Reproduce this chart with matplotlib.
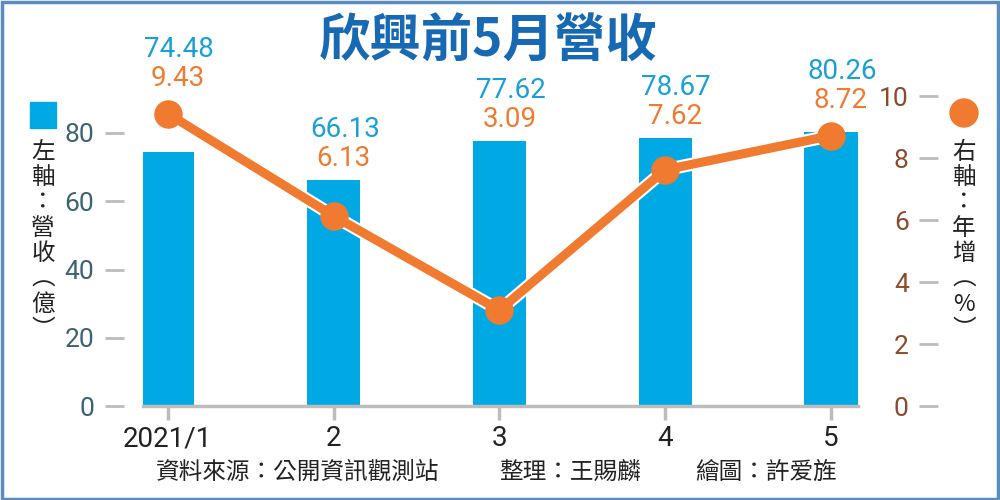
import matplotlib
matplotlib.use("Agg")
from matplotlib import pyplot as plt
from matplotlib import patheffects as pe
from matplotlib.patches import Ellipse, Rectangle
import numpy as np

plt.rcParams['font.family'] = ['Noto Sans CJK TC', 'DejaVu Sans']

# data
months = ["2021/1", "2", "3", "4", "5"]
revenue = [74.48, 66.13, 77.62, 78.67, 80.26]   # 億
growth = [9.43, 6.13, 3.09, 7.62, 8.72]         # %
left_ticks = [0, 20, 40, 60, 80]
right_ticks = [0, 2, 4, 6, 8, 10]

title = "欣興前5月營收"
left_legend = "左軸：營收（億）"
right_legend = "右軸：年增（%）"
source = "資料來源：公開資訊觀測站"
editor = "整理：王賜麟"
artist = "繪圖：許爱旌"

blue = "#00a9e3"
orange = "#f07b30"
gray = "#bcbcbc"
left_col = "#3d6272"
right_col = "#8b4a2b"
title_col = "#1769b3"
num_font = ["Roboto", "DejaVu Sans"]

fig = plt.figure(figsize=(10, 5), dpi=100)
ax = fig.add_axes([0.143, 0.188, 0.715, 0.70])
x = np.arange(len(months))

# scales: left 3.4125 px / unit, right 31 px / unit, axes height 350 px
ax.set_ylim(0, 350 / 3.4125)
ax.set_xlim(-0.15, 4.163)
ax.bar(x, revenue, width=0.32, color=blue, zorder=2)

for s in ["top", "right"]:
    ax.spines[s].set_visible(False)
ax.spines["left"].set_position(("outward", 14))
ax.spines["left"].set_visible(False)
ax.spines["bottom"].set_color(gray)
ax.spines["bottom"].set_linewidth(2.5)
ax.set_yticks(left_ticks)
ax.tick_params(axis="y", length=14, width=2, color=gray, pad=7,
               labelsize=19, labelcolor=left_col)
ax.set_xticks(x)
ax.set_xticklabels(months)
ax.tick_params(axis="x", length=10, width=2.5, color=gray, pad=4,
               labelsize=20, labelcolor="#222222")
for lab in ax.get_xticklabels() + ax.get_yticklabels():
    lab.set_family(num_font)

ax2 = ax.twinx()
ax2.set_ylim(0, 350 / 31)
ax2.plot(x, growth, color=orange, lw=6.5, solid_capstyle="round", zorder=3,
         path_effects=[pe.Stroke(linewidth=9.5, foreground="white"), pe.Normal()])
ax2.plot(x, growth, color=orange, lw=0, marker="o", ms=19.5, zorder=4)
for s in ["top", "right", "bottom", "left"]:
    ax2.spines[s].set_visible(False)
ax2.yaxis.set_ticks_position("left")
ax2.spines["left"].set_position(("axes", (938 - 143) / 715))
ax2.set_yticks(right_ticks)
ax2.tick_params(axis="y", length=14, width=2, color=gray, pad=7,
                labelsize=19, labelcolor=right_col)
for lab in ax2.get_yticklabels():
    lab.set_family(num_font)

# value labels: just above the higher of bar top and marker top
for i in range(len(months)):
    bar_px = revenue[i] * 3.4125
    mk_px = growth[i] * 31 + 14
    top = max(bar_px, mk_px)
    ax.annotate(f"{growth[i]:.2f}", (i, top / 3.4125), xytext=(10, 8),
                textcoords="offset pixels", ha="center", va="bottom",
                fontsize=20, color=orange, family=num_font)
    ax.annotate(f"{revenue[i]:.2f}", (i, top / 3.4125), xytext=(11, 37),
                textcoords="offset pixels", ha="center", va="bottom",
                fontsize=20, color="#1a9fd8", family=num_font)

fig.text(0.488, 0.918, title, ha="center", va="center", fontsize=37,
         fontweight="bold", color=title_col)

# legends
def vertical(s):
    return "\n".join(s.replace("（", "︵").replace("）", "︶"))

fig.add_artist(Rectangle((0.030, 0.744), 0.026, 0.052, color=blue,
                         transform=fig.transFigure))
fig.text(0.043, 0.718, vertical(left_legend), ha="center", va="top",
         fontsize=17, linespacing=1.13, color="#222222")
fig.add_artist(Ellipse((0.964, 0.774), 0.028, 0.056, color=orange,
                       transform=fig.transFigure))
fig.text(0.964, 0.718, vertical(right_legend), ha="center", va="top",
         fontsize=17, linespacing=1.13, color="#222222")

# footer
fig.text(0.298, 0.056, source, ha="center", va="center", fontsize=17, color="#222222")
fig.text(0.570, 0.056, editor, ha="center", va="center", fontsize=17, color="#222222")
fig.text(0.766, 0.056, artist, ha="center", va="center", fontsize=17, color="#222222")

# border
fig.add_artist(Rectangle((0.0015, 0.003), 0.996, 0.994, fill=False,
                         edgecolor="#5b8cc0", linewidth=2.5,
                         transform=fig.transFigure))

fig.savefig("out.png", dpi=100)
